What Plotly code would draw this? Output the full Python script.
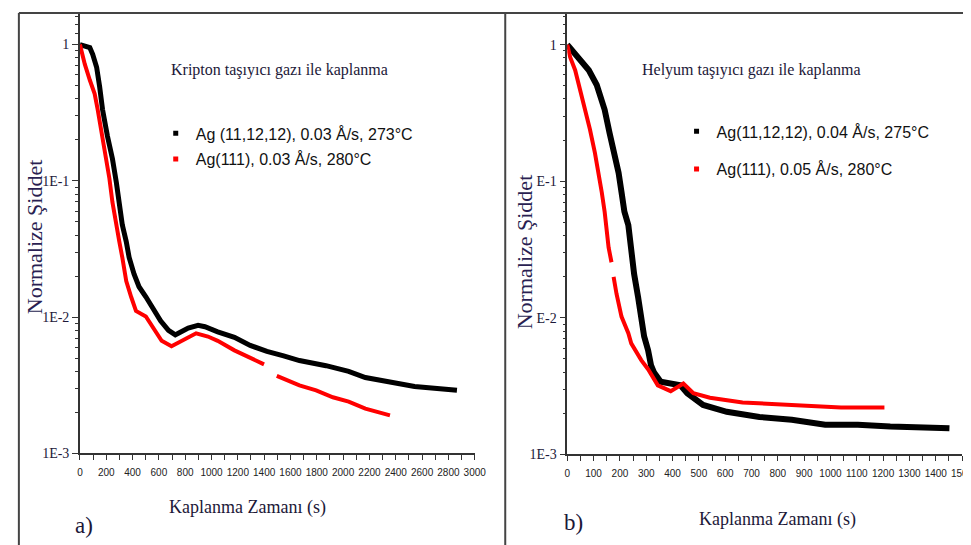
import plotly.graph_objects as go

W, H = 971, 545

# ---------------- data ----------------
kr_black_t = [0, 22, 75, 97, 127, 150, 172, 209, 247, 277, 299, 322, 352, 374, 411, 449, 501,
              546, 613, 673, 725, 748, 823, 898, 950, 1047, 1174, 1294, 1421, 1548, 1668, 1870,
              2042, 2169, 2296, 2543, 2865]
kr_black_v = [1.0, 0.99, 0.951, 0.847, 0.682, 0.489, 0.333, 0.213, 0.145, 0.097, 0.0697, 0.0475,
              0.0358, 0.0274, 0.0207, 0.0167, 0.0141, 0.0119, 0.0094, 0.0080, 0.0074, 0.0076,
              0.0083, 0.0087, 0.0085, 0.0078, 0.0071, 0.0062, 0.0056, 0.0052, 0.0048, 0.0044,
              0.0040, 0.0036, 0.0034, 0.0031, 0.0029]

kr_red_t = [0, 37, 75, 112, 135, 172, 202, 224, 247, 277, 299, 322, 352, 389, 426, 501, 546,
            621, 696, 771, 883, 973, 1047, 1174, 1294, 1399, None,
            1496, 1668, 1795, 1922, 2042, 2169, 2356]
kr_red_v = [1.0, 0.717, 0.549, 0.435, 0.333, 0.213, 0.145, 0.104, 0.0697, 0.0499, 0.0359,
            0.0274, 0.0184, 0.0141, 0.0111, 0.0101, 0.0086, 0.0067, 0.0061, 0.0067, 0.0076,
            0.0072, 0.0067, 0.0057, 0.0050, 0.0045, None,
            0.0037, 0.00315, 0.0029, 0.00258, 0.0024, 0.00213, 0.0019]

he_black_t = [0, 19, 45, 82, 112, 131, 142, 161, 176, 195, 206, 217, 232, 243, 254, 269, 281,
              292, 307, 318, 329, 355, 430, 456, 516, 606, 730, 853, 980, 1104, 1227, 1452]
he_black_v = [1.0, 0.905, 0.806, 0.649, 0.506, 0.395, 0.334, 0.224, 0.171, 0.115, 0.0833,
              0.0599, 0.0477, 0.0305, 0.0209, 0.0142, 0.0102, 0.0073, 0.0058, 0.0045, 0.0040,
              0.0034, 0.0032, 0.0028, 0.0023, 0.00205, 0.00188, 0.00179, 0.00165, 0.00165,
              0.0016, 0.00155]

he_red_t = [0, 11, 30, 49, 67, 86, 105, 120, 131, 142, 150, 157, 168, None,
            176, 187, 206, 232, 243, 281, 307, 344, 393, 441, 479, 542, 666, 853, 1040, 1205]
he_red_v = [1.0, 0.81, 0.65, 0.466, 0.334, 0.24, 0.161, 0.115, 0.083, 0.0597, 0.0427, 0.0327,
            0.0255, None,
            0.0199, 0.0150, 0.0102, 0.0077, 0.0065, 0.0049, 0.0042, 0.0032, 0.0029, 0.0033,
            0.0028, 0.0026, 0.0024, 0.0023, 0.0022, 0.0022]

left_names = ["Ag (11,12,12), 0.03 Å/s, 273°C", "Ag(111), 0.03 Å/s, 280°C"]
right_names = ["Ag(11,12,12), 0.04 Å/s, 275°C", "Ag(111), 0.05 Å/s, 280°C"]
left_title = "Kripton taşıyıcı gazı ile kaplanma"
right_title = "Helyum taşıyıcı gazı ile kaplanma"
x_title = "Kaplanma Zamanı (s)"
y_title = "Normalize Şiddet"
y_tickvals = [1, 0.1, 0.01, 0.001]
left_yticktext = ["1", "1E-1", "1E-2", "1E-3"]
right_yticktext = ["1", "E-1", "E-2", "1E-3"]
left_xticks = list(range(0, 3001, 200))
right_xticks = list(range(0, 1501, 100))
minor_y = [m * 10 ** e for e in (-3, -2, -1) for m in range(2, 10)] + [1.2, 1.4, 1.6]

BLACK = "#000000"
RED = "#ff0000"
SERIF = "Liberation Serif, Times New Roman, serif"
SANS = "Liberation Sans, Arial, sans-serif"
INK = "#1c1838"

def px(x):
    return x / W

def py(y):
    return 1 - y / H

fig = go.Figure()

# curves
fig.add_trace(go.Scatter(x=kr_black_t, y=kr_black_v, mode="lines", line=dict(color=BLACK, width=5),
                         xaxis="x", yaxis="y", showlegend=False, connectgaps=False))
fig.add_trace(go.Scatter(x=kr_red_t, y=kr_red_v, mode="lines", line=dict(color=RED, width=4),
                         xaxis="x", yaxis="y", showlegend=False, connectgaps=False))
fig.add_trace(go.Scatter(x=he_black_t, y=he_black_v, mode="lines", line=dict(color=BLACK, width=6),
                         xaxis="x2", yaxis="y2", showlegend=False, connectgaps=False))
fig.add_trace(go.Scatter(x=he_red_t, y=he_red_v, mode="lines", line=dict(color=RED, width=4),
                         xaxis="x2", yaxis="y2", showlegend=False, connectgaps=False))

# legend entries
for name, col, lg, grp in [(left_names[0], BLACK, "legend", "a1"), (left_names[1], RED, "legend", "a2"),
                           (right_names[0], BLACK, "legend2", "b1"), (right_names[1], RED, "legend2", "b2")]:
    fig.add_trace(go.Scatter(x=[None], y=[None], mode="markers", name=name, legend=lg, legendgroup=grp,
                             marker=dict(symbol="square", size=5, color=col),
                             xaxis="x" if lg == "legend" else "x2", yaxis="y" if lg == "legend" else "y2"))

axis_line = dict(showline=True, linecolor="#333333", linewidth=1.5, showgrid=False, zeroline=False,
                 ticks="outside", tickcolor="#333333")

fig.update_layout(
    width=W, height=H, margin=dict(l=0, r=0, t=0, b=0),
    paper_bgcolor="white", plot_bgcolor="white",
    xaxis=dict(domain=[px(70), px(471)], range=[0, 3000], anchor="y", tickvals=left_xticks,
               tickangle=0, ticklen=5, tickwidth=1.2, ticklabelstandoff=4,
               tickfont=dict(family=SANS, size=10, color="#222"),
               minor=dict(tickmode="array", tickvals=list(range(100, 3000, 200)), ticks="outside",
                          ticklen=5, tickcolor="#333333"),
               **axis_line),
    yaxis=dict(domain=[py(452), py(5)], type="log", range=[-3, 0.232], anchor="x",
               tickvals=y_tickvals, ticktext=left_yticktext, ticklen=6, tickwidth=1.2,
               tickfont=dict(family=SERIF, size=14, color=INK),
               minor=dict(tickmode="array", tickvals=minor_y, ticks="outside", ticklen=3,
                          tickcolor="#333333"),
               **axis_line),
    xaxis2=dict(domain=[px(565), px(966)], range=[0, 1500], anchor="y2", tickvals=right_xticks,
                tickangle=0, ticklen=5, tickwidth=1.2, ticklabelstandoff=4,
                tickfont=dict(family=SANS, size=10, color="#222"),
                minor=dict(tickmode="array", tickvals=list(range(50, 1500, 100)), ticks="outside",
                           ticklen=5, tickcolor="#333333"),
                **axis_line),
    yaxis2=dict(domain=[py(453), py(5)], type="log", range=[-3, 0.232], anchor="x2",
                tickvals=y_tickvals, ticktext=right_yticktext, ticklen=6, tickwidth=1.2,
                tickfont=dict(family=SERIF, size=14, color=INK),
                minor=dict(tickmode="array", tickvals=minor_y, ticks="outside", ticklen=3,
                           tickcolor="#333333"),
                **axis_line),
    legend=dict(x=px(147), y=py(110), xanchor="left", yanchor="top", bgcolor="rgba(0,0,0,0)",
                font=dict(family=SANS, size=16, color="#111"), tracegroupgap=2,
                itemwidth=30),
    legend2=dict(x=px(676), y=py(108), xanchor="left", yanchor="top", bgcolor="rgba(0,0,0,0)",
                 font=dict(family=SANS, size=16, color="#111"), tracegroupgap=14,
                 itemwidth=30),
)

annots = [
    dict(text=left_title, x=px(273), y=py(63), font=dict(family=SERIF, size=16, color=INK)),
    dict(text=right_title, x=px(752), y=py(63), font=dict(family=SERIF, size=16, color=INK)),
    dict(text=x_title, x=px(240), y=py(507), font=dict(family=SERIF, size=18, color=INK)),
    dict(text=x_title, x=px(779), y=py(519), font=dict(family=SERIF, size=18, color=INK)),
    dict(text=y_title, x=px(24), y=py(232), textangle=-90, font=dict(family=SERIF, size=22, color="#2a1f52")),
    dict(text=y_title, x=px(521), y=py(247), textangle=-90, font=dict(family=SERIF, size=22, color="#2a1f52")),
    dict(text="a)", x=px(74), y=py(525), font=dict(family=SERIF, size=23, color=INK)),
    dict(text="b)", x=px(571), y=py(522), font=dict(family=SERIF, size=23, color=INK)),
]
for a in annots:
    a.update(xref="paper", yref="paper", showarrow=False, xanchor="center", yanchor="middle")
    fig.add_annotation(**a)

# panel frame lines
for x0, y0, x1, y1 in [(8, 5, 971, 5), (8, 5, 8, 545), (502, 5, 502, 545)]:
    fig.add_shape(type="line", xref="paper", yref="paper", x0=px(x0), y0=py(y0), x1=px(x1), y1=py(y1),
                  line=dict(color="#444444", width=2))

fig.write_html("out.html")
